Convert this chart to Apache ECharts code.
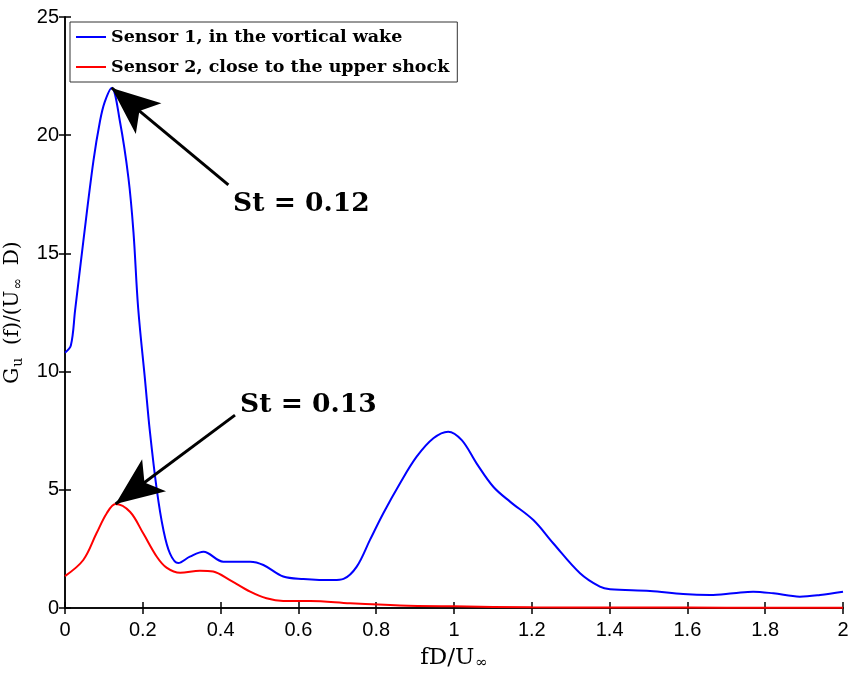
<!DOCTYPE html>
<html>
<head>
<meta charset="utf-8">
<script src="https://cdn.jsdelivr.net/npm/echarts@6/dist/echarts.min.js"></script>
<style>
  html, body { margin: 0; padding: 0; background: #fff; }
  #chart { width: 853px; height: 673px; }
</style>
</head>
<body>
<div id="chart"></div>
<script>
// Normalised frequency fD/U∞ and spectral density for sensor 1 (vortical wake)
const wakeFreq = [0, 0.015, 0.026, 0.047, 0.073, 0.09, 0.102, 0.12, 0.141, 0.163, 0.176, 0.188,
  0.206, 0.218, 0.236, 0.253, 0.27, 0.291, 0.321, 0.356, 0.407, 0.476, 0.51, 0.561, 0.613,
  0.69, 0.716, 0.75, 0.784, 0.818, 0.861, 0.904, 0.947, 0.985, 1.02, 1.058, 1.101, 1.144,
  1.204, 1.255, 1.324, 1.375, 1.401, 1.504, 1.589, 1.658, 1.718, 1.769, 1.821, 1.889, 1.941, 2.0];
const wakePsd = [10.8, 11.1, 12.6, 15.5, 18.9, 20.6, 21.4, 22.0, 20.6, 18.2, 15.9, 12.7,
  9.6, 7.5, 5.0, 3.3, 2.3, 1.9, 2.17, 2.38, 1.96, 1.96, 1.82, 1.33, 1.23,
  1.18, 1.23, 1.75, 2.88, 4.0, 5.27, 6.4, 7.18, 7.46, 7.1, 6.12, 5.13, 4.5,
  3.72, 2.74, 1.47, 0.9, 0.79, 0.72, 0.59, 0.55, 0.62, 0.69, 0.62, 0.48, 0.55, 0.69];

// Sensor 2 (close to the upper shock)
const shockFreq = [0, 0.047, 0.081, 0.107, 0.13, 0.167, 0.201, 0.236, 0.261, 0.296, 0.347,
  0.381, 0.424, 0.476, 0.518, 0.561, 0.63, 0.733, 0.861, 1.0, 1.2, 1.4, 1.6, 1.8, 2.0];
const shockPsd = [1.35, 2.03, 3.16, 4.0, 4.4, 4.07, 3.16, 2.17, 1.71, 1.49, 1.58,
  1.54, 1.18, 0.69, 0.41, 0.30, 0.30, 0.2, 0.11, 0.07, 0.03, 0.02, 0.02, 0.01, 0.01];

const seriesNames = ['Sensor 1, in the vortical wake', 'Sensor 2, close to the upper shock'];

// Strouhal peaks: [St, peak value], with the anchor of each callout
const wakePeak = [0.12, 22.0];
const shockPeak = [0.13, 4.4];
const wakeCallout = [0.42, 17.9];
const shockCallout = [0.437, 8.16];
const wakeLabelAt = [0.432, 17.1];
const shockLabelAt = [0.45, 8.6];

const xTickStep = 0.2;
const yTickStep = 5;

const zip = (a, b) => a.map((v, i) => [v, b[i]]);

const tickFont = { fontFamily: '"Liberation Sans", Arial, sans-serif', fontSize: 20, color: '#000' };
const serif = '"DejaVu Serif", serif';

function fmtX(v) {
  const r = Math.round(v * 10) / 10;
  return String(r);
}

const axisLineStyle = { lineStyle: { color: '#000', width: 1.5 } };
const tickInside = { inside: true, length: 6, lineStyle: { color: '#000', width: 1.5 } };

const chart = echarts.init(document.getElementById('chart'), null, { renderer: 'canvas' });

function calloutLine(from, to) {
  return {
    silent: true,
    symbol: ['none', 'arrow'],
    symbolSize: [30, 48],
    lineStyle: { color: '#000', width: 3, type: 'solid' },
    label: { show: false },
    emphasis: { disabled: true },
    animation: false,
    data: [[{ coord: from }, { coord: to }]]
  };
}

function calloutText(at, text) {
  return {
    silent: true,
    symbol: 'circle',
    symbolSize: 0,
    animation: false,
    label: {
      show: true,
      position: 'right',
      distance: 0,
      formatter: text,
      fontFamily: serif,
      fontWeight: 'bold',
      fontSize: 26.5,
      color: '#000'
    },
    data: [{ coord: at }]
  };
}

chart.setOption({
  backgroundColor: '#fff',
  animation: false,
  grid: { left: 65, right: 10, top: 17, bottom: 65, containLabel: false, outerBoundsMode: 'none' },
  legend: {
    left: 70,
    top: 22,
    orient: 'vertical',
    data: seriesNames,
    icon: 'rect',
    itemWidth: 30,
    itemHeight: 2,
    itemGap: 12,
    padding: [6, 8, 6, 6],
    borderColor: '#333',
    borderWidth: 1,
    backgroundColor: '#fff',
    selectedMode: false,
    textStyle: { fontFamily: serif, fontWeight: 'bold', fontSize: 17.5, color: '#000' }
  },
  xAxis: [
    {
      type: 'value', min: 0, max: 2, interval: xTickStep,
      position: 'bottom',
      name: '{m|fD/U}{s|∞}',
      nameLocation: 'middle',
      nameGap: 38,
      nameTextStyle: {
        rich: {
          m: { fontFamily: serif, fontSize: 23, color: '#000' },
          s: { fontFamily: serif, fontSize: 15, color: '#000', padding: [10, 0, 0, 1] }
        }
      },
      axisLine: axisLineStyle,
      axisTick: tickInside,
      splitLine: { show: false },
      axisLabel: Object.assign({ margin: 12, formatter: fmtX }, tickFont)
    },
    {
      type: 'value', min: 0, max: 2, interval: xTickStep,
      position: 'top',
      axisLine: axisLineStyle,
      axisTick: tickInside,
      splitLine: { show: false },
      axisLabel: { show: false }
    }
  ],
  yAxis: [
    {
      type: 'value', min: 0, max: 25, interval: yTickStep,
      position: 'left',
      name: '{m|G}{s|u}{m|  (f)/(U}{s|∞}{m|  D)}',
      nameLocation: 'middle',
      nameGap: 33,
      nameRotate: 90,
      nameTextStyle: {
        rich: {
          m: { fontFamily: serif, fontSize: 20, color: '#000' },
          s: { fontFamily: serif, fontSize: 14, color: '#000', padding: [12, 0, 0, 1] }
        }
      },
      axisLine: axisLineStyle,
      axisTick: tickInside,
      splitLine: { show: false },
      axisLabel: Object.assign({ margin: 6 }, tickFont)
    },
    {
      type: 'value', min: 0, max: 25, interval: yTickStep,
      position: 'right',
      axisLine: axisLineStyle,
      axisTick: tickInside,
      splitLine: { show: false },
      axisLabel: { show: false }
    }
  ],
  series: [
    {
      name: seriesNames[0],
      type: 'line',
      data: zip(wakeFreq, wakePsd),
      smooth: 0.35,
      symbol: 'none',
      lineStyle: { color: '#0000ff', width: 2 },
      itemStyle: { color: '#0000ff' },
      z: 3,
      markLine: calloutLine(wakeCallout, wakePeak),
      markPoint: calloutText(wakeLabelAt, 'St = 0.12')
    },
    {
      name: seriesNames[1],
      type: 'line',
      data: zip(shockFreq, shockPsd),
      smooth: 0.35,
      symbol: 'none',
      lineStyle: { color: '#ff0000', width: 2 },
      itemStyle: { color: '#ff0000' },
      z: 3,
      markLine: calloutLine(shockCallout, shockPeak),
      markPoint: calloutText(shockLabelAt, 'St = 0.13')
    }
  ]
});
</script>
</body>
</html>
